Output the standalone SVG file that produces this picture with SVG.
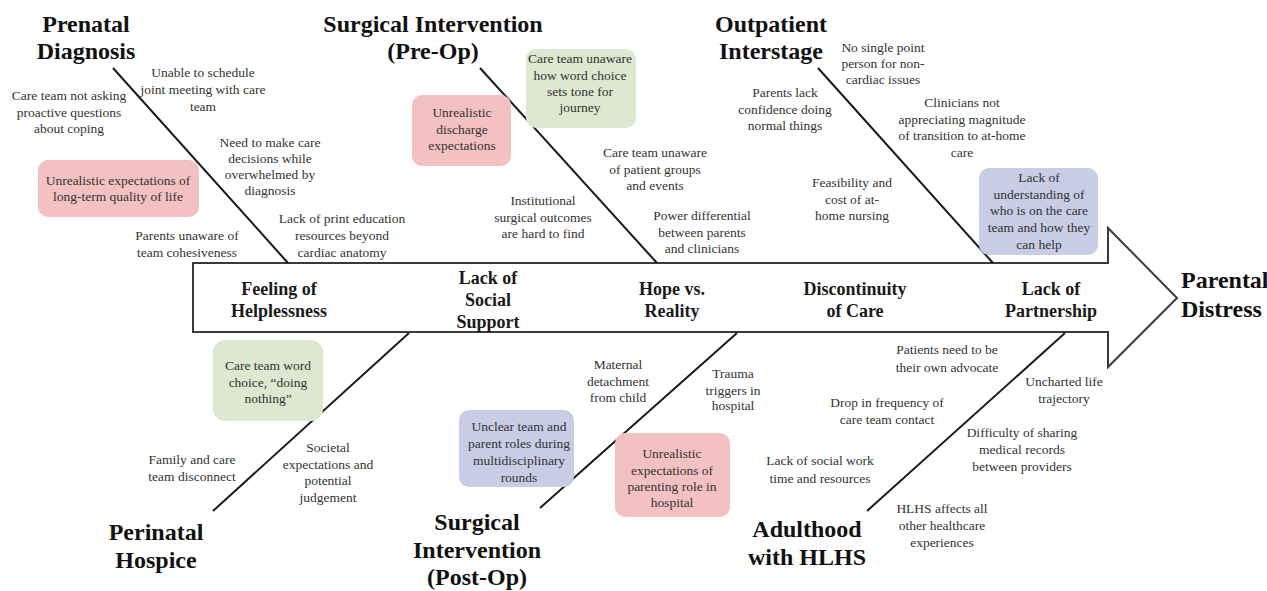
<svg xmlns="http://www.w3.org/2000/svg" width="1267" height="591" viewBox="0 0 1267 591">
<style>
.title{font-family:"Liberation Serif","Times New Roman",serif;font-weight:bold;font-size:24px;fill:#111;text-anchor:middle}
.cat{font-family:"Liberation Serif","Times New Roman",serif;font-weight:bold;font-size:18px;fill:#1a1a1a;text-anchor:middle}
.cause{font-family:"Liberation Serif","Times New Roman",serif;font-size:13.5px;fill:#333;text-anchor:middle}
.bone{stroke:#1a1a1a;stroke-width:2;fill:none}
.pink{fill:#f3c1c1}
.green{fill:#dee7d0}
.blue{fill:#c8cce5}
</style>
<rect width="1267" height="591" fill="#fff"/>

<g id="spine">
<polygon points="193,263 1108,263 1108,228 1177,298 1108,367 1108,332 193,332" fill="#fff" stroke="#3a3a3a" stroke-width="2"/>
</g>

<g id="connectors">
<line class="bone" x1="113" y1="68" x2="288" y2="263"/>
<line class="bone" x1="480" y1="68" x2="657" y2="263"/>
<line class="bone" x1="818" y1="68" x2="993" y2="263"/>
<line class="bone" x1="409" y1="333" x2="213" y2="511"/>
<line class="bone" x1="737" y1="333" x2="540" y2="508"/>
<line class="bone" x1="1065" y1="333" x2="867" y2="511"/>
</g>

<g id="title-prenatal"><text class="title" x="86" y="32">Prenatal</text><text class="title" x="86" y="59">Diagnosis</text></g>
<g id="title-preop"><text class="title" x="433" y="32">Surgical Intervention</text><text class="title" x="433" y="59">(Pre-Op)</text></g>
<g id="title-outpatient"><text class="title" x="771" y="32">Outpatient</text><text class="title" x="771" y="59">Interstage</text></g>
<g id="title-distress"><text class="title" x="1181" y="288" style="text-anchor:start">Parental</text><text class="title" x="1181" y="317" style="text-anchor:start">Distress</text></g>
<g id="title-hospice"><text class="title" x="156" y="540">Perinatal</text><text class="title" x="156" y="568">Hospice</text></g>
<g id="title-postop"><text class="title" x="477" y="530">Surgical</text><text class="title" x="477" y="558">Intervention</text><text class="title" x="477" y="585">(Post-Op)</text></g>
<g id="title-adulthood"><text class="title" x="807" y="537">Adulthood</text><text class="title" x="807" y="565">with HLHS</text></g>

<g id="cat-helplessness"><text class="cat" x="279" y="295">Feeling of</text><text class="cat" x="279" y="317">Helplessness</text></g>
<g id="cat-social"><text class="cat" x="488" y="284">Lack of</text><text class="cat" x="488" y="306">Social</text><text class="cat" x="488" y="328">Support</text></g>
<g id="cat-hope"><text class="cat" x="672" y="295">Hope vs.</text><text class="cat" x="672" y="317">Reality</text></g>
<g id="cat-discontinuity"><text class="cat" x="855" y="295">Discontinuity</text><text class="cat" x="855" y="317">of Care</text></g>
<g id="cat-partnership"><text class="cat" x="1051" y="295">Lack of</text><text class="cat" x="1051" y="317">Partnership</text></g>

<g id="c-unable"><text class="cause" x="203" y="77">Unable to schedule</text><text class="cause" x="203" y="94">joint meeting with care</text><text class="cause" x="203" y="111">team</text></g>
<g id="c-proactive"><text class="cause" x="69" y="100">Care team not asking</text><text class="cause" x="69" y="117">proactive questions</text><text class="cause" x="69" y="133">about coping</text></g>
<g id="c-overwhelmed"><text class="cause" x="270" y="147">Need to make care</text><text class="cause" x="270" y="163">decisions while</text><text class="cause" x="270" y="179">overwhelmed by</text><text class="cause" x="270" y="195">diagnosis</text></g>
<g id="c-longterm"><rect class="pink" x="38" y="160" width="161" height="57" rx="10"/><text class="cause" x="118" y="185">Unrealistic expectations of</text><text class="cause" x="118" y="201">long-term quality of life</text></g>
<g id="c-print"><text class="cause" x="342" y="223">Lack of print education</text><text class="cause" x="342" y="240">resources beyond</text><text class="cause" x="342" y="257">cardiac anatomy</text></g>
<g id="c-cohesive"><text class="cause" x="187" y="240">Parents unaware of</text><text class="cause" x="187" y="257">team cohesiveness</text></g>

<g id="c-discharge"><rect class="pink" x="412" y="95" width="99" height="71" rx="10"/><text class="cause" x="462" y="117">Unrealistic</text><text class="cause" x="462" y="134">discharge</text><text class="cause" x="462" y="150">expectations</text></g>
<g id="c-wordchoice"><rect class="green" x="526" y="49" width="110" height="79" rx="10"/><text class="cause" x="580" y="63">Care team unaware</text><text class="cause" x="580" y="80">how word choice</text><text class="cause" x="580" y="96">sets tone for</text><text class="cause" x="580" y="112">journey</text></g>
<g id="c-groups"><text class="cause" x="655" y="157">Care team unaware</text><text class="cause" x="655" y="174">of patient groups</text><text class="cause" x="655" y="190">and events</text></g>
<g id="c-outcomes"><text class="cause" x="543" y="205">Institutional</text><text class="cause" x="543" y="222">surgical outcomes</text><text class="cause" x="543" y="238">are hard to find</text></g>
<g id="c-power"><text class="cause" x="702" y="220">Power differential</text><text class="cause" x="702" y="237">between parents</text><text class="cause" x="702" y="253">and clinicians</text></g>

<g id="c-confidence"><text class="cause" x="785" y="97">Parents lack</text><text class="cause" x="785" y="114">confidence doing</text><text class="cause" x="785" y="130">normal things</text></g>
<g id="c-single"><text class="cause" x="883" y="52">No single point</text><text class="cause" x="883" y="68">person for non-</text><text class="cause" x="883" y="84">cardiac issues</text></g>
<g id="c-transition"><text class="cause" x="962" y="107">Clinicians not</text><text class="cause" x="962" y="124">appreciating magnitude</text><text class="cause" x="962" y="140">of transition to at-home</text><text class="cause" x="962" y="157">care</text></g>
<g id="c-nursing"><text class="cause" x="852" y="187">Feasibility and</text><text class="cause" x="852" y="204">cost of at-</text><text class="cause" x="852" y="220">home nursing</text></g>
<g id="c-careteam"><rect class="blue" x="979" y="168" width="119" height="87" rx="10"/><text class="cause" x="1039" y="182">Lack of</text><text class="cause" x="1039" y="199">understanding of</text><text class="cause" x="1039" y="215">who is on the care</text><text class="cause" x="1039" y="232">team and how they</text><text class="cause" x="1039" y="249">can help</text></g>

<g id="c-doingnothing"><rect class="green" x="213" y="340" width="110" height="81" rx="12"/><text class="cause" x="268" y="370">Care team word</text><text class="cause" x="268" y="387">choice, “doing</text><text class="cause" x="268" y="403">nothing”</text></g>
<g id="c-disconnect"><text class="cause" x="192" y="464">Family and care</text><text class="cause" x="192" y="481">team disconnect</text></g>
<g id="c-societal"><text class="cause" x="328" y="452">Societal</text><text class="cause" x="328" y="469">expectations and</text><text class="cause" x="328" y="485">potential</text><text class="cause" x="328" y="502">judgement</text></g>

<g id="c-maternal"><text class="cause" x="618" y="369">Maternal</text><text class="cause" x="618" y="386">detachment</text><text class="cause" x="618" y="402">from child</text></g>
<g id="c-trauma"><text class="cause" x="733" y="378">Trauma</text><text class="cause" x="733" y="395">triggers in</text><text class="cause" x="733" y="410">hospital</text></g>
<g id="c-roles"><rect class="blue" x="459" y="410" width="115" height="77" rx="10"/><text class="cause" x="519" y="431">Unclear team and</text><text class="cause" x="519" y="448">parent roles during</text><text class="cause" x="519" y="465">multidisciplinary</text><text class="cause" x="519" y="482">rounds</text></g>
<g id="c-parenting"><rect class="pink" x="615" y="433" width="115" height="84" rx="10"/><text class="cause" x="672" y="458">Unrealistic</text><text class="cause" x="672" y="475">expectations of</text><text class="cause" x="672" y="491">parenting role in</text><text class="cause" x="672" y="507">hospital</text></g>

<g id="c-advocate"><text class="cause" x="947" y="354">Patients need to be</text><text class="cause" x="947" y="372">their own advocate</text></g>
<g id="c-uncharted"><text class="cause" x="1064" y="386">Uncharted life</text><text class="cause" x="1064" y="403">trajectory</text></g>
<g id="c-frequency"><text class="cause" x="887" y="407">Drop in frequency of</text><text class="cause" x="887" y="424">care team contact</text></g>
<g id="c-records"><text class="cause" x="1022" y="437">Difficulty of sharing</text><text class="cause" x="1022" y="454">medical records</text><text class="cause" x="1022" y="471">between providers</text></g>
<g id="c-socialwork"><text class="cause" x="820" y="465">Lack of social work</text><text class="cause" x="820" y="483">time and resources</text></g>
<g id="c-healthcare"><text class="cause" x="942" y="513">HLHS affects all</text><text class="cause" x="942" y="530">other healthcare</text><text class="cause" x="942" y="547">experiences</text></g>
</svg>
